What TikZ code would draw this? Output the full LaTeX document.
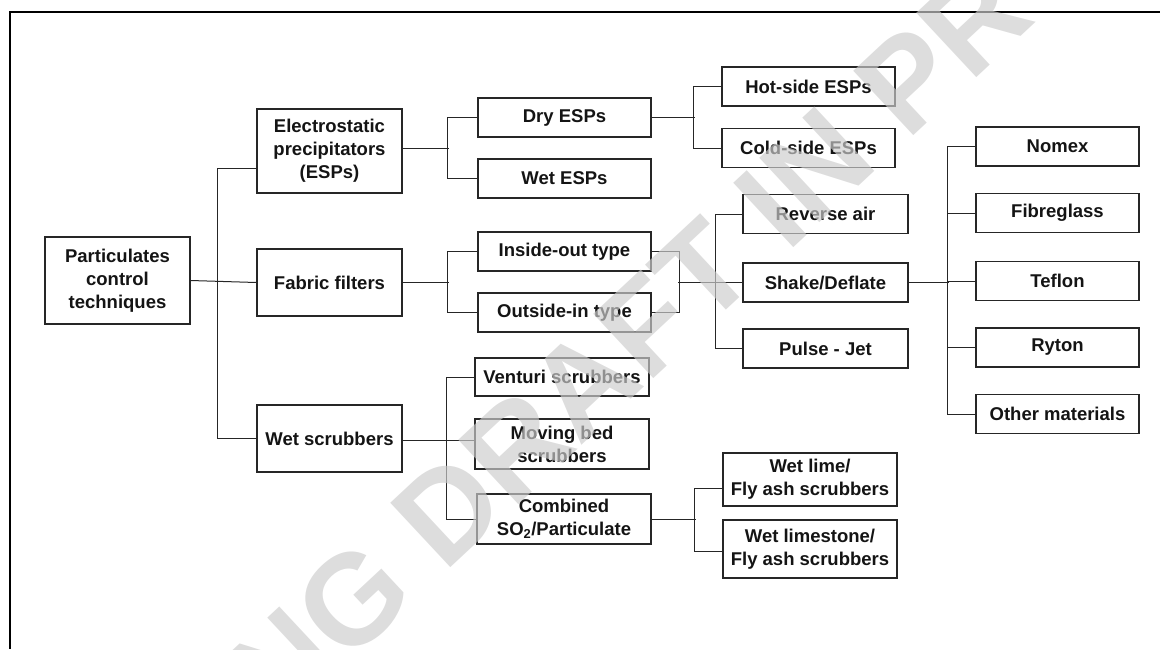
\documentclass[tikz,border=0pt]{standalone}
\usepackage{fontspec}
\setmainfont{Liberation Sans}
\begin{document}
\begin{tikzpicture}[
                x=1pt, y=-1pt,
                box/.style={draw=black!85, line width=1.2pt, align=center, inner sep=0pt,
                            font=\fontsize{18.5}{23}\selectfont\bfseries, text=black!92},
                wide/.style={box, minimum width=145pt},
                mid/.style={box, minimum width=173pt, minimum height=39pt},
                leaf/.style={box, minimum width=165pt, minimum height=39pt},
                mat/.style={box, minimum width=163pt, minimum height=39pt},
                link/.style={draw=black!85, line width=1pt}
                ]
                \useasboundingbox (0,0) rectangle (1160,649);
                % frame
                \draw[line width=1.5pt] (1160,12) -- (10,12) -- (10,649);
                % first levels
                \node[wide, minimum height=87pt] (root) at (117.5,280.5) {Particulates\\control\\techniques};
                \node[wide, minimum height=84pt] (esp) at (329.5,151) {Electrostatic\\precipitators\\(ESPs)};
                \node[wide, minimum height=67pt] (fabric) at (329.5,282.5) {Fabric filters};
                \node[wide, minimum height=67pt] (wetscr) at (329.5,438.5) {Wet scrubbers};
                \node[mid] (dry) at (564.5,117.5) {Dry ESPs};
                \node[mid] (wetesp) at (564.5,178.5) {Wet ESPs};
                \node[mid] (inside) at (564.5,251.5) {Inside-out type};
                \node[mid] (outside) at (564.5,312.5) {Outside-in type};
                \node[mid, minimum width=174pt, minimum height=38pt] (venturi) at (562,377) {Venturi scrubbers};
                \node[mid, minimum width=174pt, minimum height=50pt] (moving) at (562,444) {Moving bed\\scrubbers};
                \node[mid, minimum width=174pt, minimum height=50pt] (combined) at (564,519) {Combined\\SO\textsubscript{2}/Particulate};
                % right side
                \node[mid] (hot) at (808.5,86.5) {Hot-side ESPs};
                \node[mid] (cold) at (808.5,148) {Cold-side ESPs};
                \node[leaf] (reverse) at (825.5,214) {Reverse air};
                \node[leaf] (shake) at (825.5,282.5) {Shake/Deflate};
                \node[leaf] (pulse) at (825.5,348.5) {Pulse - Jet};
                \node[mat] (nomex) at (1057.5,146.5) {Nomex};
                \node[mat] (fibre) at (1057.5,213) {Fibreglass};
                \node[mat] (teflon) at (1057.5,281) {Teflon};
                \node[mat] (ryton) at (1057.5,347.5) {Ryton};
                \node[mat] (other) at (1057.5,414) {Other materials};
                \node[mid, minimum width=174pt, minimum height=53pt] (wetlime) at (810,479.5) {Wet lime/\\Fly ash scrubbers};
                \node[mid, minimum width=174pt, minimum height=58pt] (limestone) at (810,549) {Wet limestone/\\Fly ash scrubbers};
                % trunk
                \draw[link] (root.east) -- (fabric.west);
                \draw[link] ([yshift=-17pt]esp.west) -- ++(-39,0) |- (wetscr.west);
                % ESPs
                \draw[link] ([yshift=3pt]esp.east) -- ++(46,0);
                \draw[link] (dry.west) -- ++(-30,0) |- (wetesp.west);
                \draw[link] (dry.east) -- ++(43,0);
                \draw[link] (hot.west) -- ++(-28,0) |- (cold.west);
                % fabric filters
                \draw[link] (fabric.east) -- ++(46,0);
                \draw[link] (inside.west) -- ++(-30,0) |- (outside.west);
                \draw[link] (inside.east) -- ++(28,0) |- (outside.east);
                \draw[link] (shake.west) -- ++(-64,0);
                \draw[link] (reverse.west) -- ++(-27,0) |- (pulse.west);
                \draw[link] (shake.east) -- ++(40,0);
                \draw[link] (nomex.west) -- ++(-28,0) |- (other.west);
                \foreach \m in {fibre,teflon,ryton}
                    \draw[link] (\m.west) -- ++(-28,0);
                % wet scrubbers
                \draw[link] ([yshift=-1.5pt]wetscr.east) -- ([yshift=-1.5pt]wetscr.east -| moving.west);
                \draw[link] (venturi.west) -- ++(-28,0) |- (combined.west);
                \draw[link] (combined.east) -- ++(44,0);
                \draw[link] ([yshift=-8.5pt]wetlime.west) -- ++(-28,0) |- ([yshift=-2pt]limestone.west);
                % watermark
                \begin{scope}
                    \clip (0,0) rectangle (1160,649);
                    \node[rotate=43, text=black!20, opacity=0.67, font=\fontsize{128}{128}\selectfont\bfseries] (mark) at (628,342) {NG DRAFT IN PR};
                \end{scope}
            \end{tikzpicture}
\end{document}
